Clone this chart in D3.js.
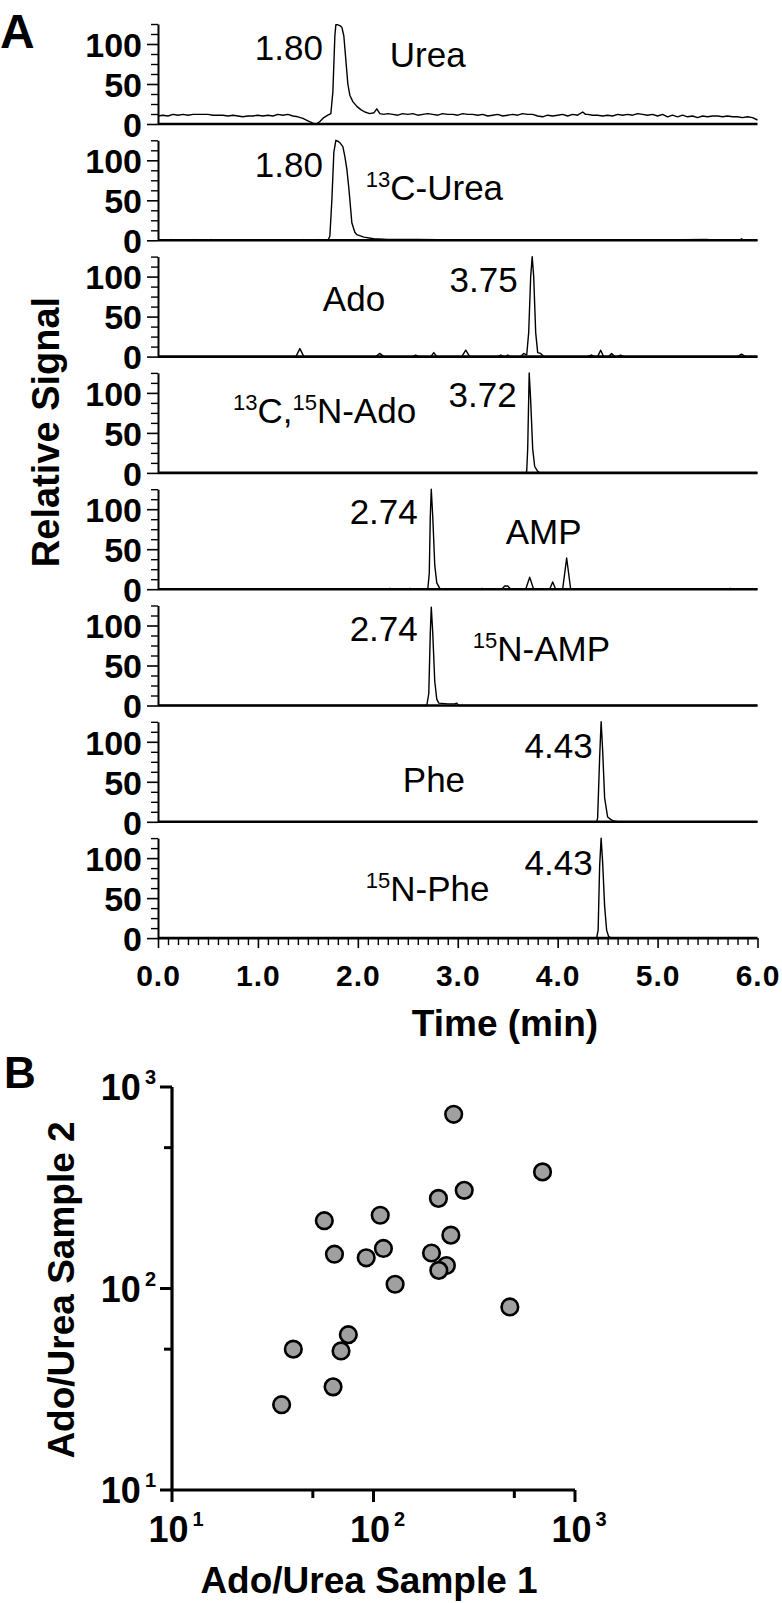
<!DOCTYPE html>
<html><head><meta charset="utf-8">
<script src="https://cdn.jsdelivr.net/npm/d3@7/dist/d3.min.js"></script>
<style>
body{margin:0;background:#fff;}
svg{display:block;font-family:"Liberation Sans",Arial,Helvetica,sans-serif;}
</style></head>
<body>
<svg id="chart" width="782" height="1603"></svg>
<script>
// ---------------- DATA ----------------
// Panel A: chromatogram traces, [time (min), relative signal]
const urea = [[0.00,10],[0.05,11],[0.10,10],[0.15,12],[0.20,11],[0.25,12],[0.30,11],[0.35,12],[0.40,12],[0.45,12],[0.50,12],[0.55,11],[0.60,11],[0.65,11],[0.70,10],[0.75,11],[0.80,10],[0.85,9],[0.90,10],[0.95,10],[1.00,11],[1.05,10],[1.10,11],[1.15,10],[1.20,12],[1.25,11],[1.30,12],[1.35,10],[1.40,9],[1.45,7],[1.50,4],[1.55,1],[1.58,0],[1.62,3],[1.66,8],[1.70,11],[1.73,13],[1.75,40],[1.77,110],[1.78,124],[1.80,124],[1.82,123],[1.84,121],[1.86,110],[1.88,80],[1.90,50],[1.92,36],[1.95,28],[1.99,22],[2.03,18],[2.07,15],[2.12,13],[2.16,14],[2.19,19],[2.22,13],[2.26,12],[2.30,13],[2.35,12],[2.40,11],[2.45,13],[2.50,12],[2.55,13],[2.60,11],[2.65,12],[2.70,13],[2.75,12],[2.80,11],[2.85,13],[2.90,12],[2.95,12],[3.00,11],[3.05,13],[3.10,12],[3.15,12],[3.20,11],[3.25,12],[3.30,10],[3.35,11],[3.40,12],[3.45,10],[3.50,11],[3.55,12],[3.60,11],[3.65,13],[3.70,12],[3.75,12],[3.80,10],[3.85,9],[3.90,11],[3.95,10],[4.00,11],[4.05,12],[4.10,10],[4.15,12],[4.20,11],[4.25,15],[4.28,12],[4.30,12],[4.35,11],[4.40,11],[4.45,10],[4.50,11],[4.55,10],[4.60,12],[4.65,11],[4.70,12],[4.75,11],[4.80,13],[4.85,12],[4.90,11],[4.95,12],[5.00,10],[5.05,12],[5.10,9],[5.15,11],[5.20,9],[5.25,11],[5.30,9],[5.35,10],[5.40,8],[5.45,10],[5.50,9],[5.55,10],[5.60,10],[5.65,9],[5.70,10],[5.75,9],[5.80,9],[5.85,8],[5.90,9],[5.95,8],[6.00,5]];
const c13Urea = [[0,0],[0.12,0],[0.13,1],[0.14,0],[0.35,0],[0.36,1],[0.37,0],[0.52,0],[0.53,1],[0.54,0],[1.45,0],[1.46,1],[1.47,0],[1.60,0],[1.61,1],[1.62,0],[1.70,0],[1.72,5],[1.74,50],[1.76,110],[1.78,125],[1.80,124],[1.82,122],[1.85,117],[1.87,105],[1.89,89],[1.91,65],[1.92,51],[1.94,22],[1.97,10],[1.99,7],[2.06,4],[2.16,2],[2.30,1],[2.60,1],[3.00,0.5],[4.00,0.5],[5.00,0.5],[5.50,1],[5.51,0],[5.82,0],[5.84,2],[5.86,0],[6.00,0]];
const ado = [[0,0],[1.38,0],[1.42,10],[1.46,0],[2.18,0],[2.22,4],[2.26,0],[2.55,0],[2.58,2],[2.61,0],[2.73,0],[2.76,5],[2.79,0],[3.04,0],[3.08,8],[3.12,0],[3.40,0],[3.43,2],[3.46,0],[3.48,0],[3.50,2],[3.52,0],[3.63,0],[3.66,4],[3.69,2],[3.71,30],[3.73,100],[3.745,125],[3.76,100],[3.78,30],[3.80,5],[3.83,4],[3.86,0],[4.30,0],[4.34,2],[4.37,0],[4.40,0],[4.43,8],[4.46,0],[4.51,0],[4.54,4],[4.57,0],[4.60,0],[4.63,2],[4.66,0],[5.80,0],[5.84,3],[5.88,0],[6.00,0]];
const c13n15Ado = [[0,0],[3.68,0],[3.69,2],[3.70,30],[3.715,125],[3.73,90],[3.75,30],[3.77,8],[3.80,2],[3.82,0],[6.00,0]];
const amp = [[0,0],[2.30,0],[2.32,1],[2.34,0],[2.50,0],[2.52,1],[2.54,0],[2.70,0],[2.715,20],[2.725,90],[2.735,125],[2.75,90],[2.77,30],[2.79,8],[2.82,1],[2.85,0],[3.22,0],[3.24,1],[3.26,0],[3.44,0],[3.47,4],[3.50,4],[3.53,0],[3.68,0],[3.72,15],[3.76,0],[3.92,0],[3.95,9],[3.98,0],[4.05,0],[4.09,39],[4.13,0],[5.70,0],[5.73,1],[5.76,0],[6.00,0]];
const n15Amp = [[0,0],[2.69,0],[2.71,15],[2.725,90],[2.735,123],[2.75,90],[2.77,30],[2.79,8],[2.81,3],[2.90,2],[2.97,2],[2.99,3],[3.01,0],[6.00,0]];
const phe = [[0,0],[4.39,0],[4.40,5],[4.42,80],[4.435,125],[4.45,90],[4.47,30],[4.50,6],[4.53,3],[4.56,1],[4.60,0],[6.00,0]];
const n15Phe = [[0,0],[4.39,0],[4.405,10],[4.42,90],[4.435,125],[4.45,95],[4.47,40],[4.49,10],[4.51,2],[4.54,0],[6.00,0]];
const traces = [urea, c13Urea, ado, c13n15Ado, amp, n15Amp, phe, n15Phe];

// compound names (segments: [text, isSuperscript]) and retention times
const compoundNames = [
  [["Urea",false]],
  [["13",true],["C-Urea",false]],
  [["Ado",false]],
  [["13",true],["C,",false],["15",true],["N-Ado",false]],
  [["AMP",false]],
  [["15",true],["N-AMP",false]],
  [["Phe",false]],
  [["15",true],["N-Phe",false]]
];
const retentionTimes = ["1.80","1.80","3.75","3.72","2.74","2.74","4.43","4.43"];

const timeTicks = [0,1,2,3,4,5,6];
const timeTickLabels = ["0.0","1.0","2.0","3.0","4.0","5.0","6.0"];
const signalTicks = [0,50,100];

// Panel B: Ado/Urea ratios
const sample1 = [250,690,282,210,57,108,242,64,92,112,194,230,211,128,475,75,40,69,63,35];
const sample2 = [732,379,307,280,217,231,184,148,142,158,150,130,123,105,81,59,50,49,32.5,26.5];
const logTicks = [10,100,1000];
const logExps = ["1","2","3"];

// ---------------- LAYOUT ----------------
const svg = d3.select("#chart");
const FONT = '"Liberation Sans",Arial,Helvetica,sans-serif';

const x = d3.scaleLinear().domain([0,6]).range([158,757.5]);
const panelZero0 = 124, panelStep = 116.3, panelH = 100;

// label placements (in data units of each panel)
const labelPos = [
  {rt:[1.65,80,"end"], nm:[2.32,71]},
  {rt:[1.65,79,"end"], nm:[2.08,51]},
  {rt:[3.60,81,"end"], nm:[1.65,57]},
  {rt:[3.59,82,"end"], nm:[0.75,62]},
  {rt:[2.60,82,"end"], nm:[3.48,57]},
  {rt:[2.60,81,"end"], nm:[3.15,56]},
  {rt:[4.35,80,"end"], nm:[2.45,37]},
  {rt:[4.35,79,"end"], nm:[2.08,47]}
];

traces.forEach((tr,i)=>{
  const zero = panelZero0 + i*panelStep;
  const y = d3.scaleLinear().domain([0,125]).range([zero, zero-panelH]);
  const g = svg.append("g");

  // minor y ticks
  const minor = d3.range(0,125.1,12.5).filter(v=>v%50!==0);
  g.append("g").attr("transform","translate(158,0)")
    .call(d3.axisLeft(y).tickValues(minor).tickSize(7).tickSizeOuter(0).tickFormat(""))
    .call(a=>{a.select(".domain").attr("stroke","#000").attr("stroke-width",2);
              a.selectAll(".tick line").attr("stroke","#000").attr("stroke-width",1.4);});
  // major y ticks with labels
  g.append("g").attr("transform","translate(158,0)")
    .call(d3.axisLeft(y).tickValues(signalTicks).tickSize(11).tickSizeOuter(0).tickPadding(5))
    .call(a=>{a.select(".domain").remove();
              a.selectAll(".tick line").attr("stroke","#000").attr("stroke-width",1.6);
              a.selectAll(".tick text").attr("font-family",FONT).attr("font-size",34)
               .attr("font-weight","bold").attr("fill","#000").attr("dy","0.36em");});

  // trace
  const line = d3.line().x(d=>x(d[0])).y(d=>y(d[1]));
  g.append("path").datum(tr).attr("d",line).attr("fill","none")
    .attr("stroke","#000").attr("stroke-width",1.4).attr("stroke-linejoin","round");

  // zero line (x axis)
  g.append("line").attr("x1",x(0)).attr("x2",x(6)).attr("y1",y(0)).attr("y2",y(0))
    .attr("stroke","#000").attr("stroke-width",2.6);

  // retention time label
  const lp = labelPos[i];
  g.append("text").attr("x",x(lp.rt[0])).attr("y",y(lp.rt[1])).attr("text-anchor",lp.rt[2])
    .attr("font-size",35).attr("fill","#000").text(retentionTimes[i]);
  // compound name
  const t = g.append("text").attr("x",x(lp.nm[0])).attr("y",y(lp.nm[1])).attr("font-size",35).attr("fill","#000");
  compoundNames[i].forEach((seg,k)=>{
    const prevSup = k>0 && compoundNames[i][k-1][1];
    if(seg[1]) t.append("tspan").attr("font-size",22).attr("dy",-13).text(seg[0]);
    else t.append("tspan").attr("dy",prevSup?13:0).text(seg[0]);
  });

  // bottom x axis ticks
  if(i===traces.length-1){
    const minorX = d3.range(0,6.001,0.1).filter(v=>Math.abs(v-Math.round(v))>1e-6);
    g.append("g").attr("transform",`translate(0,${zero})`)
      .call(d3.axisBottom(x).tickValues(minorX).tickSize(7).tickSizeOuter(0).tickFormat(""))
      .call(a=>{a.select(".domain").remove();
                a.selectAll(".tick line").attr("stroke","#000").attr("stroke-width",1.4);});
    g.append("g").attr("transform",`translate(0,${zero})`)
      .call(d3.axisBottom(x).tickValues(timeTicks).tickSize(10).tickSizeOuter(0)
            .tickFormat((d,k)=>timeTickLabels[k]).tickPadding(17))
      .call(a=>{a.select(".domain").remove();
                a.selectAll(".tick line").attr("stroke","#000").attr("stroke-width",1.6);
                a.selectAll(".tick text").attr("font-family",FONT).attr("font-size",30)
                 .attr("font-weight","bold").attr("fill","#000").attr("letter-spacing",1);});
  }
});

// panel A labels
svg.append("text").attr("x",0).attr("y",48).attr("font-size",48).attr("font-weight","bold").text("A");
svg.append("text").attr("transform","translate(59,432) rotate(-90)").attr("text-anchor","middle")
  .attr("font-size",38).attr("font-weight","bold").text("Relative Signal");
svg.append("text").attr("x",505).attr("y",1036).attr("text-anchor","middle")
  .attr("font-size",37).attr("font-weight","bold").text("Time (min)");

// ---------------- PANEL B ----------------
const xB = d3.scaleLog().domain([10,1000]).range([172,575]);
const yB = d3.scaleLog().domain([10,1000]).range([1490,1087]);
const gB = svg.append("g");

svg.append("text").attr("x",4).attr("y",1088).attr("font-size",44).attr("font-weight","bold").text("B");

// axes lines
gB.append("line").attr("x1",172).attr("x2",172).attr("y1",yB(1000)).attr("y2",yB(10))
  .attr("stroke","#000").attr("stroke-width",3.2);
gB.append("line").attr("x1",xB(10)-1.6).attr("x2",xB(1000)).attr("y1",yB(10)).attr("y2",yB(10))
  .attr("stroke","#000").attr("stroke-width",3.2);

// ticks
logTicks.forEach((v,k)=>{
  gB.append("line").attr("x1",xB(v)).attr("x2",xB(v)).attr("y1",yB(10)).attr("y2",yB(10)+12)
    .attr("stroke","#000").attr("stroke-width",3);
  gB.append("line").attr("x1",xB(10)-12).attr("x2",xB(10)).attr("y1",yB(v)).attr("y2",yB(v))
    .attr("stroke","#000").attr("stroke-width",3);
  const tx = gB.append("text").attr("x",xB(v)+4).attr("y",yB(10)+52).attr("text-anchor","middle")
    .attr("font-size",36).attr("font-weight","bold");
  tx.append("tspan").text("10");
  tx.append("tspan").attr("font-size",20).attr("dx",4).attr("dy",-16).text(logExps[k]);
  const ty = gB.append("text").attr("x",156).attr("y",yB(v)+13).attr("text-anchor","end")
    .attr("font-size",36).attr("font-weight","bold");
  ty.append("tspan").text("10");
  ty.append("tspan").attr("font-size",20).attr("dx",4).attr("dy",-16).text(logExps[k]);
});
[50,500].forEach(v=>{
  gB.append("line").attr("x1",xB(v)).attr("x2",xB(v)).attr("y1",yB(10)).attr("y2",yB(10)+8)
    .attr("stroke","#000").attr("stroke-width",3);
  gB.append("line").attr("x1",xB(10)-8).attr("x2",xB(10)).attr("y1",yB(v)).attr("y2",yB(v))
    .attr("stroke","#000").attr("stroke-width",3);
});

// points
gB.selectAll("circle").data(sample1.map((v,k)=>[v,sample2[k]])).join("circle")
  .attr("cx",d=>xB(d[0])).attr("cy",d=>yB(d[1])).attr("r",8.3)
  .attr("fill","#a0a0a0").attr("stroke","#000").attr("stroke-width",2.6);

// axis titles
svg.append("text").attr("x",369).attr("y",1593).attr("text-anchor","middle")
  .attr("font-size",37).attr("font-weight","bold").text("Ado/Urea Sample 1");
svg.append("text").attr("transform","translate(74,1290) rotate(-90)").attr("text-anchor","middle")
  .attr("font-size",37).attr("font-weight","bold").text("Ado/Urea Sample 2");
</script>
</body></html>
